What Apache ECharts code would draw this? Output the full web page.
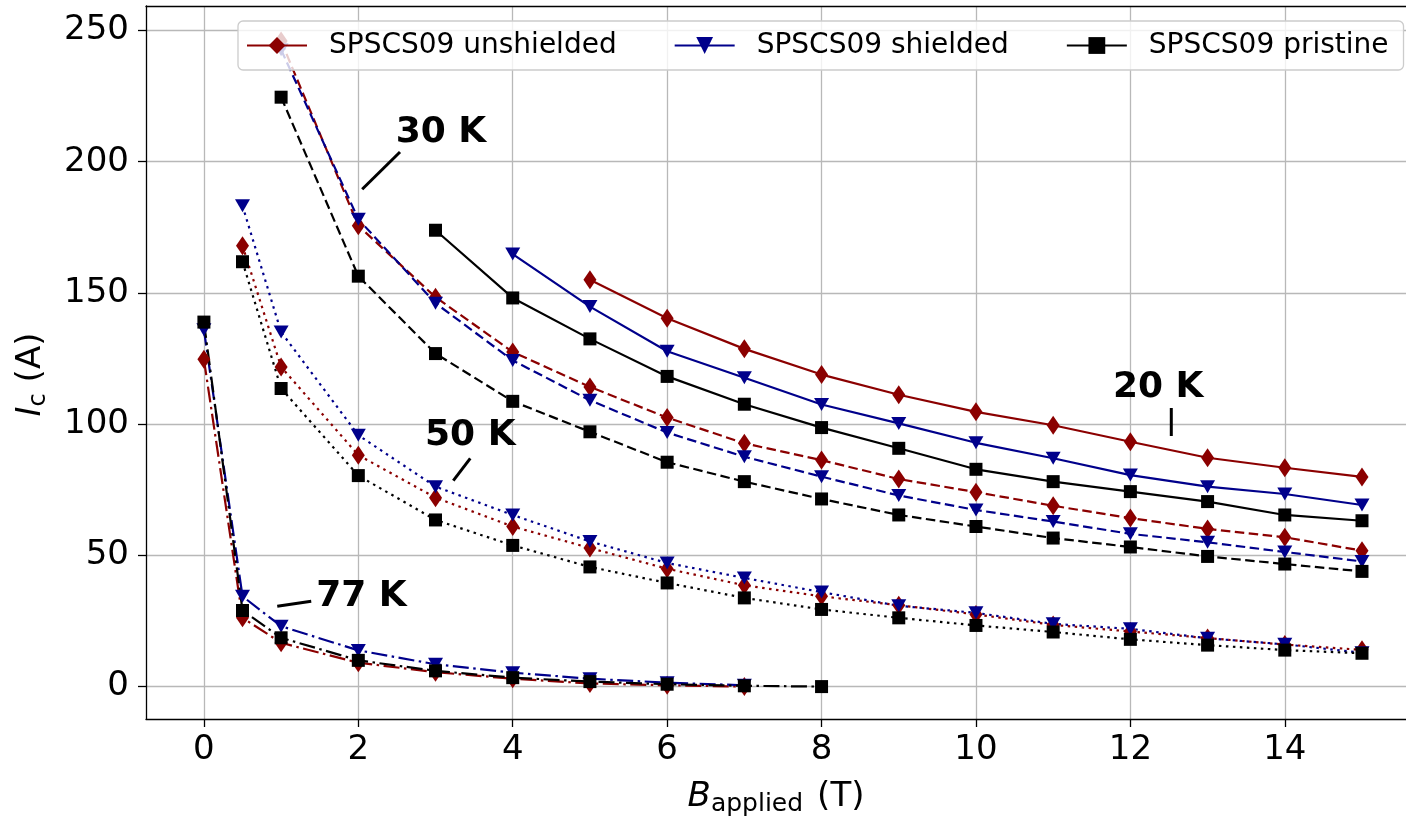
<!DOCTYPE html>
<html><head><meta charset="utf-8">
<script src="https://cdn.jsdelivr.net/npm/echarts@6/dist/echarts.min.js"></script>
<style>html,body{margin:0;padding:0;background:#fff}#c{width:1406px;height:822px}</style>
</head><body><div id="c"></div>
<script>
const FONT = 'DejaVu Sans';
const legendNames = ['SPSCS09 unshielded', 'SPSCS09 shielded', 'SPSCS09 pristine'];
const xTicks = [0, 2, 4, 6, 8, 10, 12, 14];
const yTicks = [0, 50, 100, 150, 200, 250];

// 20 K (solid)
const B20_unshielded = [5, 6, 7, 8, 9, 10, 11, 12, 13, 14, 15];
const Ic20_unshielded = [155.0, 140.4, 128.7, 118.9, 111.2, 104.7, 99.6, 93.3, 87.2, 83.4, 79.9];
const B20_shielded = [4, 5, 6, 7, 8, 9, 10, 11, 12, 13, 14, 15];
const Ic20_shielded = [164.8, 144.8, 127.8, 117.7, 107.5, 100.3, 92.9, 87.0, 80.6, 76.2, 73.4, 69.2];
const B20_pristine = [3, 4, 5, 6, 7, 8, 9, 10, 11, 12, 13, 14, 15];
const Ic20_pristine = [173.9, 148.1, 132.5, 118.2, 107.6, 98.7, 90.8, 82.8, 78.1, 74.3, 70.5, 65.4, 63.2];

// 30 K (dashed)
const B30 = [1, 2, 3, 4, 5, 6, 7, 8, 9, 10, 11, 12, 13, 14, 15];
const Ic30_unshielded = [246.0, 175.6, 148.4, 127.5, 114.2, 102.5, 92.7, 86.3, 79.1, 74.1, 68.9, 64.2, 60.1, 56.9, 51.8];
const Ic30_shielded = [242.7, 178.1, 146.1, 124.3, 109.1, 96.8, 87.6, 80.0, 72.8, 67.3, 62.9, 58.2, 55.0, 51.3, 47.7];
const Ic30_pristine = [224.6, 156.4, 126.9, 108.7, 97.1, 85.5, 78.1, 71.5, 65.4, 61.0, 56.6, 53.2, 49.6, 46.7, 43.9];

// 50 K (dotted)
const B50 = [0.5, 1, 2, 3, 4, 5, 6, 7, 8, 9, 10, 11, 12, 13, 14, 15];
const Ic50_unshielded = [168.0, 121.8, 88.2, 72.0, 61.0, 52.8, 44.9, 38.6, 34.4, 31.0, 27.5, 23.5, 21.0, 18.5, 16.0, 14.0];
const Ic50_shielded = [183.2, 135.1, 95.8, 76.2, 65.4, 55.3, 47.1, 41.4, 36.0, 30.8, 28.1, 23.9, 22.0, 18.4, 16.1, 12.9];
const Ic50_pristine = [161.9, 113.6, 80.4, 63.5, 53.8, 45.6, 39.5, 33.8, 29.4, 26.2, 23.3, 20.8, 18.0, 15.8, 13.9, 12.7];

// 77 K (dash-dot)
const B77_unshielded = [0, 0.5, 1, 2, 3, 4, 5, 6, 7];
const Ic77_unshielded = [124.7, 26.2, 16.7, 9.1, 5.5, 3.0, 1.2, 0.5, 0.0];
const B77_shielded = [0, 0.5, 1, 2, 3, 4, 5, 6, 7];
const Ic77_shielded = [136.0, 34.4, 23.0, 13.8, 8.5, 5.3, 3.0, 1.5, 0.5];
const B77_pristine = [0, 0.5, 1, 2, 3, 4, 5, 6, 7, 8];
const Ic77_pristine = [138.9, 29.0, 18.6, 10.0, 6.0, 3.4, 1.9, 0.9, 0.3, 0.0];

// annotations
const annotTexts = ['30 K', '50 K', '77 K', '20 K'];
const annotTextPos = [[3.07, 211.2], [3.45, 95.7], [2.04, 34.2], [12.36, 113.9]];
const annotLines = [
  [[2.05, 189.5], [2.54, 203.7]],
  [[3.23, 78.5], [3.45, 87.0]],
  [[0.95, 30.6], [1.39, 32.5]],
  [[12.53, 106.2], [12.53, 95.5]]
];

const COLORS = { unshielded: '#8b0000', shielded: '#00008b', pristine: '#000000' };
const SYMBOLS = {
  unshielded: { symbol: 'diamond', symbolSize: [13, 19], symbolRotate: 0 },
  shielded: { symbol: 'triangle', symbolSize: [15, 13], symbolRotate: 180 },
  pristine: { symbol: 'rect', symbolSize: [13, 13], symbolRotate: 0 }
};
const LW = 2.2;
const DASH = { solid: 'solid', dashed: [9.5, 4.5], dotted: [2.5, 4.5], dashdot: [16, 4.5, 2.5, 4.5] };

function zip(a, b) { return a.map((v, i) => [v, b[i]]); }
function mk(name, sample, B, Ic, style) {
  const s = SYMBOLS[sample];
  return {
    name: name, type: 'line', data: zip(B, Ic),
    symbol: s.symbol, symbolSize: s.symbolSize, symbolRotate: s.symbolRotate,
    showAllSymbol: true, clip: true,
    lineStyle: { color: COLORS[sample], width: LW, type: DASH[style], cap: 'butt' },
    itemStyle: { color: COLORS[sample], borderWidth: 0 },
    emphasis: { disabled: true }, z: 3
  };
}

const series = [
  mk('SPSCS09 unshielded', 'unshielded', B20_unshielded, Ic20_unshielded, 'solid'),
  mk('unshielded 30 K', 'unshielded', B30, Ic30_unshielded, 'dashed'),
  mk('unshielded 50 K', 'unshielded', B50, Ic50_unshielded, 'dotted'),
  mk('unshielded 77 K', 'unshielded', B77_unshielded, Ic77_unshielded, 'dashdot'),
  mk('SPSCS09 shielded', 'shielded', B20_shielded, Ic20_shielded, 'solid'),
  mk('shielded 30 K', 'shielded', B30, Ic30_shielded, 'dashed'),
  mk('shielded 50 K', 'shielded', B50, Ic50_shielded, 'dotted'),
  mk('shielded 77 K', 'shielded', B77_shielded, Ic77_shielded, 'dashdot'),
  mk('SPSCS09 pristine', 'pristine', B20_pristine, Ic20_pristine, 'solid'),
  mk('pristine 30 K', 'pristine', B30, Ic30_pristine, 'dashed'),
  mk('pristine 50 K', 'pristine', B50, Ic50_pristine, 'dotted'),
  mk('pristine 77 K', 'pristine', B77_pristine, Ic77_pristine, 'dashdot')
];

annotLines.forEach((seg, i) => {
  series.push({
    name: 'annot line ' + i, type: 'line', data: seg, symbol: 'none', silent: true,
    lineStyle: { color: '#000', width: 3, type: 'solid' }, z: 4, emphasis: { disabled: true }
  });
});
series.push({
  name: 'annot text', type: 'scatter', symbolSize: 0, silent: true, z: 5,
  itemStyle: { color: '#000' },
  data: annotTextPos.map((p, i) => ({ value: p, label: { formatter: annotTexts[i] } })),
  label: {
    show: true, position: 'inside', color: '#000', fontFamily: FONT, fontWeight: 'bold', fontSize: 36,
    textBorderWidth: 0, textShadowBlur: 0, opacity: 1
  },
  emphasis: { disabled: true }
});

const axisLineStyle = { color: '#000', width: 1.3 };
const chart = echarts.init(document.getElementById('c'), null, { renderer: 'canvas' });
chart.setOption({
  animation: false,
  backgroundColor: '#fff',
  grid: { left: 146, top: 6, width: 1260, height: 716, show: false },
  legend: {
    data: legendNames, left: 238, top: 21,
    padding: [10, 15, 10, 8], itemGap: 57, itemWidth: 60, itemHeight: 21,
    backgroundColor: 'rgba(255,255,255,0.8)', borderColor: '#cccccc', borderWidth: 1.3, borderRadius: 5,
    textStyle: { fontFamily: FONT, fontSize: 28, color: '#000', padding: [0, 0, 0, 17], lineHeight: 29 },
    selectedMode: false
  },
  xAxis: [{
    type: 'value', min: -0.75, max: 15.57, position: 'bottom',
    axisLine: { show: true, onZero: false, lineStyle: axisLineStyle },
    axisTick: { show: true, inside: false, length: 8, lineStyle: axisLineStyle, customValues: xTicks },
    axisLabel: { customValues: xTicks, fontFamily: FONT, fontSize: 34, color: '#000', margin: 14 },
    splitLine: { show: true, lineStyle: { color: '#b8b8b8', width: 1.3 } },
    name: '{b|B}{s|applied}{n|(T)}', nameLocation: 'middle', nameGap: 58,
    nameTextStyle: {
      fontFamily: FONT, fontSize: 34, color: '#000',
      rich: {
        b: { fontFamily: FONT, fontSize: 34, fontStyle: 'italic', lineHeight: 40, color: '#000' },
        s: { fontFamily: FONT, fontSize: 25, lineHeight: 24, verticalAlign: 'bottom', color: '#000' },
        n: { fontFamily: FONT, fontSize: 34, lineHeight: 40, color: '#000', padding: [0, 0, 0, 14] }
      }
    }
  }, {
    type: 'value', min: -0.75, max: 15.57, position: 'top',
    axisLine: { show: true, onZero: false, lineStyle: axisLineStyle },
    axisTick: { show: false }, axisLabel: { show: false }, splitLine: { show: false }
  }],
  yAxis: {
    type: 'value', min: -12.35, max: 259.35, position: 'left',
    axisLine: { show: true, onZero: false, lineStyle: axisLineStyle },
    axisTick: { show: true, inside: false, length: 8, lineStyle: axisLineStyle, customValues: yTicks },
    axisLabel: { customValues: yTicks, fontFamily: FONT, fontSize: 34, color: '#000', margin: 17 },
    splitLine: { show: true, lineStyle: { color: '#b8b8b8', width: 1.3 } },
    name: '{b|I}{s|c} {n|(A)}', nameLocation: 'middle', nameGap: 95, nameRotate: 90,
    nameTextStyle: {
      fontFamily: FONT, fontSize: 34, color: '#000', padding: [0, 24, 0, 0],
      rich: {
        b: { fontFamily: FONT, fontSize: 34, fontStyle: 'italic', lineHeight: 40, color: '#000' },
        s: { fontFamily: FONT, fontSize: 24, lineHeight: 24, verticalAlign: 'bottom', color: '#000' },
        n: { fontFamily: FONT, fontSize: 34, lineHeight: 40, color: '#000' }
      }
    }
  },
  series: series
});
</script></body></html>
